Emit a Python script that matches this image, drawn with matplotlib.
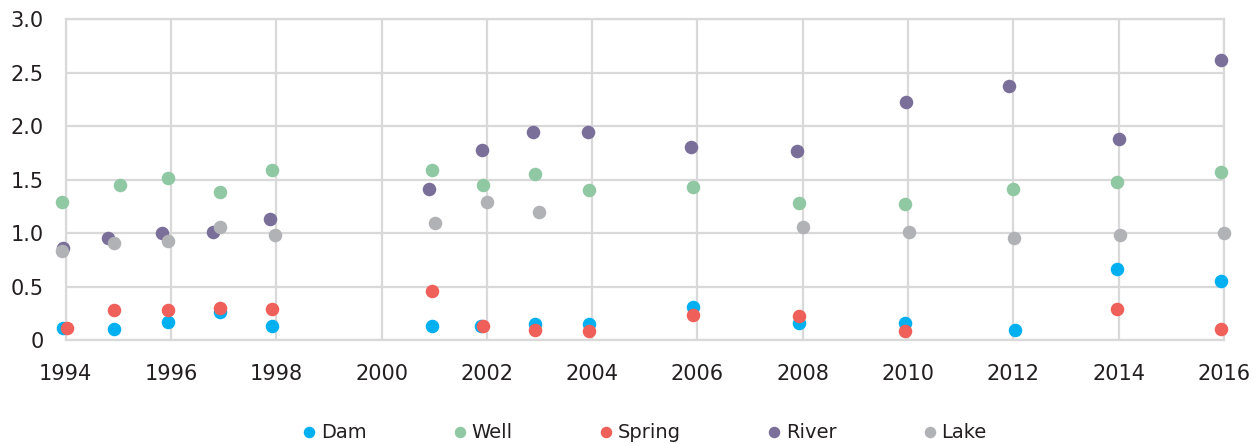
import matplotlib.pyplot as plt
from matplotlib.ticker import FuncFormatter

plt.rcParams['font.family'] = ['DejaVu Sans']

# Datos (año fraccional, valor)
dam_x = [1993.95, 1994.92, 1995.94, 1996.93, 1997.92, 2000.96, 2001.89, 2002.91,
         2003.94, 2005.92, 2007.93, 2009.94, 2012.03, 2013.97, 2015.94]
dam_y = [0.11, 0.10, 0.17, 0.26, 0.13, 0.13, 0.13, 0.15,
         0.15, 0.31, 0.16, 0.16, 0.09, 0.66, 0.55]

well_x = [1993.93, 1995.03, 1995.94, 1996.93, 1997.92, 2000.96, 2001.93, 2002.91,
          2003.94, 2005.92, 2007.93, 2009.94, 2012.0, 2013.97, 2015.94]
well_y = [1.29, 1.45, 1.52, 1.38, 1.59, 1.59, 1.45, 1.55,
          1.40, 1.43, 1.28, 1.27, 1.41, 1.48, 1.57]

spring_x = [1994.03, 1994.92, 1995.94, 1996.93, 1997.92, 2000.96, 2001.93, 2002.91,
            2003.94, 2005.92, 2007.93, 2009.94, 2013.97, 2015.94]
spring_y = [0.11, 0.28, 0.28, 0.30, 0.29, 0.46, 0.13, 0.09,
            0.08, 0.23, 0.22, 0.08, 0.29, 0.10]

river_x = [1993.95, 1994.80, 1995.83, 1996.80, 1997.88, 2000.90, 2001.91, 2002.88,
           2003.92, 2005.88, 2007.89, 2009.96, 2011.92, 2014.01, 2015.94]
river_y = [0.86, 0.95, 1.00, 1.01, 1.13, 1.41, 1.78, 1.95,
           1.95, 1.81, 1.77, 2.23, 2.38, 1.88, 2.62]

lake_x = [1993.93, 1994.92, 1995.94, 1996.93, 1997.97, 2001.02, 2002.0, 2002.99,
          2008.01, 2010.02, 2012.02, 2014.02, 2016.0]
lake_y = [0.83, 0.91, 0.93, 1.06, 0.98, 1.09, 1.29, 1.20,
          1.06, 1.01, 0.95, 0.98, 1.00]

series = [("Dam", dam_x, dam_y, "#00b0f0"),
          ("Well", well_x, well_y, "#8fc8a3"),
          ("Spring", spring_x, spring_y, "#f0605a"),
          ("River", river_x, river_y, "#7a6f99"),
          ("Lake", lake_x, lake_y, "#b1b2b6")]

text_col = "#231f20"
grid_col = "#d9d9d9"

fig = plt.figure(figsize=(12.56, 4.44), dpi=100)
ax = fig.add_axes([0.0523, 0.2342, 0.9222, 0.7223])

for name, xs, ys, col in series:
    ax.scatter(xs, ys, s=95, color=col, label=name, zorder=3, linewidths=0, clip_on=False)

ax.set_xlim(1994, 2016)
ax.set_ylim(0, 3.0)
ax.set_xticks(range(1994, 2017, 2))
ax.set_yticks([0, 0.5, 1.0, 1.5, 2.0, 2.5, 3.0])
ax.yaxis.set_major_formatter(FuncFormatter(lambda v, p: "0" if v == 0 else f"{v:.1f}"))
ax.grid(True, color=grid_col, linewidth=1.6, zorder=0)
ax.set_axisbelow(True)
for sp in ax.spines.values():
    sp.set_color(grid_col)
    sp.set_linewidth(1.6)
ax.tick_params(length=0, labelsize=15, colors=text_col)
ax.tick_params(axis="x", pad=17)
ax.tick_params(axis="y", pad=16)

leg = fig.legend(loc="center", bbox_to_anchor=(0.512, 0.027), ncol=5, frameon=False,
                 fontsize=14, handletextpad=0.1, columnspacing=4.3, markerscale=0.85,
                 handlelength=1.0)
for t in leg.get_texts():
    t.set_color(text_col)

fig.savefig("out.png", dpi=100)
